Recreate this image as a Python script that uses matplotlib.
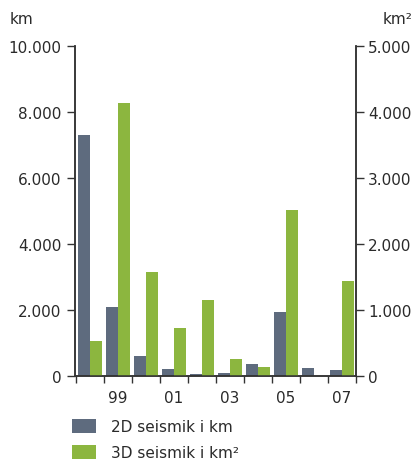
import matplotlib
matplotlib.use("Agg")
import matplotlib.pyplot as plt
import numpy as np

years = ["98", "99", "00", "01", "02", "03", "04", "05", "06", "07"]
seis_2d_km = [7300, 2080, 600, 205, 55, 90, 355, 1930, 235, 175]
seis_3d_km2 = [525, 4135, 1575, 725, 1150, 255, 135, 2510, 0, 1435]
left_ticks = [0, 2000, 4000, 6000, 8000, 10000]
left_labels = ["0", "2.000", "4.000", "6.000", "8.000", "10.000"]
right_ticks = [0, 1000, 2000, 3000, 4000, 5000]
right_labels = ["0", "1.000", "2.000", "3.000", "4.000", "5.000"]
label_years = ["99", "01", "03", "05", "07"]

GRAY = "#5e6b7e"
GREEN = "#8cb63f"
SPINE = "#333333"
TXT = "#2a2a2a"
FS = 11

plt.rcParams['font.family'] = ['DejaVu Sans']

fig = plt.figure(figsize=(4.14, 4.64), dpi=100)
W, H = 414, 464
ax = fig.add_axes([75.5 / W, 1 - 376.7 / H, (355.7 - 75.5) / W, (376.7 - 47) / H])
ax2 = ax.twinx()

x = np.arange(len(years))
bw = 0.42
b1 = ax.bar(x - 0.5 + 0.1 + bw / 2, seis_2d_km, width=bw, color=GRAY, label="2D seismik i km", zorder=2)
b2 = ax2.bar(x - 0.5 + 0.1 + bw + bw / 2, seis_3d_km2, width=bw, color=GREEN, label="3D seismik i km\u00b2", zorder=2)

ax.set_xlim(-0.5, len(years) - 0.5)
ax.set_ylim(0, 10000)
ax2.set_ylim(0, 5000)

ax.set_yticks(left_ticks)
ax.set_yticklabels(left_labels)
ax2.set_yticks(right_ticks)
ax2.set_yticklabels(right_labels)

major_pos = [years.index(y) for y in label_years]
ax.set_xticks(major_pos)
ax.set_xticklabels(label_years)
ax.set_xticks(np.arange(-0.5, len(years)), minor=True)
ax.tick_params(axis='x', which='major', length=0, pad=10, labelsize=FS, labelcolor=TXT)
ax.tick_params(axis='x', which='minor', length=5, width=1, color=SPINE, direction='out')
ax.tick_params(axis='y', length=6, width=1, color=SPINE, pad=4, labelsize=FS, labelcolor=TXT)
ax2.tick_params(axis='y', length=6, width=1, color=SPINE, pad=3, labelsize=FS, labelcolor=TXT)

for a in (ax, ax2):
    a.spines['top'].set_visible(False)
    for s in ('left', 'right', 'bottom'):
        a.spines[s].set_color(SPINE)
        a.spines[s].set_linewidth(1.1)
    a.set_facecolor('none')

fig.text(10 / W, 1 - 20 / H, "km", fontsize=FS, color=TXT, ha='left', va='center')
fig.text(383 / W, 1 - 20 / H, "km\u00b2", fontsize=FS, color=TXT, ha='left', va='center')

fig.legend(handles=[b1, b2], loc='upper left', bbox_to_anchor=(72 / W, 1 - 420 / H),
           frameon=False, fontsize=FS, handlelength=1.6, handleheight=1.0,
           handletextpad=0.95, labelspacing=0.72, borderpad=0, borderaxespad=0,
           labelcolor=TXT)

fig.savefig("out.png", dpi=100)
